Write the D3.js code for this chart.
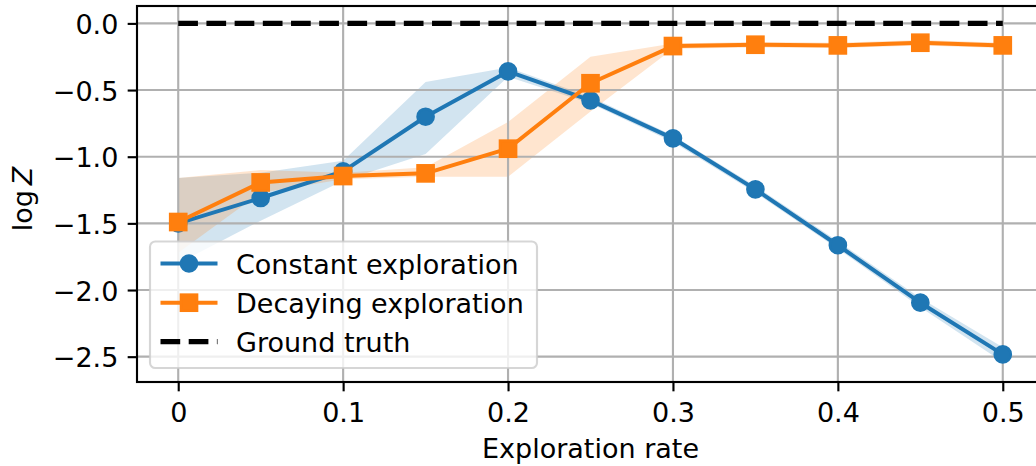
<!DOCTYPE html>
<html>
<head>
<meta charset="utf-8">
<script src="https://cdn.jsdelivr.net/npm/d3@7"></script>
<style>
  html, body { margin: 0; padding: 0; background: #ffffff; }
  svg { display: block; font-family: "DejaVu Sans", sans-serif; }
</style>
</head>
<body>
<svg id="chart" width="1036" height="466"></svg>
<script>
// Exploration rates on the x axis
const rates = [0, 0.05, 0.1, 0.15, 0.2, 0.25, 0.3, 0.35, 0.4, 0.45, 0.5];

// Constant exploration: mean log Z and shaded spread
const constMean = [-1.50, -1.31, -1.11, -0.70, -0.36, -0.577, -0.862, -1.245, -1.664, -2.095, -2.483];
const constLow  = [-1.80, -1.48, -1.18, -0.98, -0.40, -0.60, -0.89, -1.27, -1.69, -2.13, -2.54];
const constHigh = [-1.16, -1.12, -1.03, -0.44, -0.33, -0.55, -0.84, -1.22, -1.635, -2.06, -2.43];

// Decaying exploration: mean log Z and shaded spread
const decayMean = [-1.49, -1.193, -1.145, -1.125, -0.94, -0.449, -0.17, -0.16, -0.165, -0.145, -0.165];
const decayLow  = [-1.72, -1.27, -1.17, -1.15, -1.15, -0.66, -0.19, -0.18, -0.185, -0.165, -0.185];
const decayHigh = [-1.16, -1.10, -1.12, -1.08, -0.74, -0.25, -0.15, -0.14, -0.145, -0.125, -0.145];

// Ground truth log Z
const groundTruth = [0, 0];
const groundTruthRates = [0, 0.5];

// Axis ticks and labels
const xTicks = [0, 0.1, 0.2, 0.3, 0.4, 0.5];
const xTickLabels = ["0", "0.1", "0.2", "0.3", "0.4", "0.5"];
const yTicks = [0, -0.5, -1.0, -1.5, -2.0, -2.5];
const yTickLabels = ["0.0", "\u22120.5", "\u22121.0", "\u22121.5", "\u22122.0", "\u22122.5"];

const seriesNames = ["Constant exploration", "Decaying exploration", "Ground truth"];
const blue = "#1f77b4", orange = "#ff7f0e";

const svg = d3.select("#chart");
const plot = { left: 137, right: 1044, top: 6, bottom: 382 };
const FS = 27;

const x = d3.scaleLinear().domain([-0.025, 0.525]).range([plot.left, plot.right]);
const y = d3.scaleLinear().domain([-2.69, 0.1305]).range([plot.bottom, plot.top]);

svg.append("defs").append("clipPath").attr("id", "plotclip")
  .append("rect").attr("x", plot.left).attr("y", plot.top)
  .attr("width", plot.right - plot.left).attr("height", plot.bottom - plot.top);

const area = (lo, hi) => d3.area()
  .x((d, i) => x(rates[i]))
  .y0((d, i) => y(lo[i]))
  .y1((d, i) => y(hi[i]))(rates);

const body = svg.append("g").attr("clip-path", "url(#plotclip)");

// Shaded spreads sit beneath the grid
body.append("path").attr("d", area(constLow, constHigh)).attr("fill", blue).attr("fill-opacity", 0.2);
body.append("path").attr("d", area(decayLow, decayHigh)).attr("fill", orange).attr("fill-opacity", 0.2);

// Grid
const gridW = 2.13;
body.append("g").selectAll("line").data(xTicks).join("line")
  .attr("x1", d => x(d)).attr("x2", d => x(d))
  .attr("y1", plot.top).attr("y2", plot.bottom)
  .attr("stroke", "#b0b0b0").attr("stroke-width", gridW);
body.append("g").selectAll("line").data(yTicks).join("line")
  .attr("y1", d => y(d)).attr("y2", d => y(d))
  .attr("x1", plot.left).attr("x2", plot.right)
  .attr("stroke", "#b0b0b0").attr("stroke-width", gridW);

const line = vals => d3.line().x((d, i) => x(rates[i])).y((d, i) => y(vals[i]))(rates);

// Constant exploration line with circles
body.append("path").attr("d", line(constMean)).attr("fill", "none")
  .attr("stroke", blue).attr("stroke-width", 4).attr("stroke-linejoin", "round");
body.append("g").selectAll("circle").data(constMean).join("circle")
  .attr("cx", (d, i) => x(rates[i])).attr("cy", d => y(d)).attr("r", 8)
  .attr("fill", blue).attr("stroke", blue).attr("stroke-width", 2.67);

// Decaying exploration line with squares
body.append("path").attr("d", line(decayMean)).attr("fill", "none")
  .attr("stroke", orange).attr("stroke-width", 4).attr("stroke-linejoin", "round");
body.append("g").selectAll("rect").data(decayMean).join("rect")
  .attr("x", (d, i) => x(rates[i]) - 8).attr("y", d => y(d) - 8)
  .attr("width", 16).attr("height", 16)
  .attr("fill", orange).attr("stroke", orange).attr("stroke-width", 2.67);

// Ground truth dashed line
body.append("path")
  .attr("d", d3.line().x((d, i) => x(groundTruthRates[i])).y(d => y(d))(groundTruth))
  .attr("fill", "none").attr("stroke", "#000").attr("stroke-width", 5.33)
  .attr("stroke-dasharray", "19.7,8.5");

// Axes
const xAxis = svg.append("g").attr("transform", `translate(0,${plot.bottom})`)
  .call(d3.axisBottom(x).tickValues(xTicks).tickFormat((d, i) => xTickLabels[i])
    .tickSize(9.33).tickSizeOuter(0));
xAxis.select(".domain").remove();
xAxis.selectAll(".tick line").attr("stroke", "#000").attr("stroke-width", 2.13);
xAxis.selectAll(".tick text").attr("y", 40).attr("dy", null)
  .attr("font-size", FS).attr("font-family", "DejaVu Sans").attr("fill", "#000");

const yAxis = svg.append("g").attr("transform", `translate(${plot.left},0)`)
  .call(d3.axisLeft(y).tickValues(yTicks).tickFormat((d, i) => yTickLabels[i])
    .tickSize(9.33).tickPadding(9.33).tickSizeOuter(0));
yAxis.select(".domain").remove();
yAxis.selectAll(".tick line").attr("stroke", "#000").attr("stroke-width", 2.13);
yAxis.selectAll(".tick text").attr("dy", "0.37em")
  .attr("font-size", FS).attr("font-family", "DejaVu Sans").attr("fill", "#000");

// Spines
const spine = svg.append("g").attr("stroke", "#000").attr("stroke-width", 2.13).attr("fill", "none");
spine.append("rect").attr("x", plot.left).attr("y", plot.top)
  .attr("width", plot.right - plot.left).attr("height", plot.bottom - plot.top);

// Axis labels
svg.append("text").attr("x", (plot.left + plot.right) / 2).attr("y", 458.3)
  .attr("text-anchor", "middle").attr("font-size", FS).attr("fill", "#000")
  .text("Exploration rate");

const yl = svg.append("text").attr("transform", "translate(32.3,199) rotate(-90)")
  .attr("text-anchor", "middle").attr("font-size", FS).attr("fill", "#000");
yl.append("tspan").text("log");
yl.append("tspan").attr("dx", 5).attr("font-style", "italic").text("Z");

// Legend
const lg = svg.append("g");
lg.append("rect").attr("x", 150).attr("y", 241.5).attr("width", 387).attr("height", 126.5)
  .attr("rx", 5.3).attr("fill", "#fff").attr("fill-opacity", 0.8)
  .attr("stroke", "#cccccc").attr("stroke-opacity", 0.8).attr("stroke-width", 2.13);
const rowY = [263.5, 302.7, 341.7];
const hx0 = 160.5, hx1 = 217.5, hxm = (hx0 + hx1) / 2;
seriesNames.forEach((name, i) => {
  const g = lg.append("g");
  const ln = g.append("line").attr("x1", hx0).attr("x2", hx1).attr("y1", rowY[i]).attr("y2", rowY[i]);
  if (i === 0) {
    ln.attr("stroke", blue).attr("stroke-width", 4);
    g.append("circle").attr("cx", hxm).attr("cy", rowY[i]).attr("r", 8)
      .attr("fill", blue).attr("stroke", blue).attr("stroke-width", 2.67);
  } else if (i === 1) {
    ln.attr("stroke", orange).attr("stroke-width", 4);
    g.append("rect").attr("x", hxm - 8).attr("y", rowY[i] - 8).attr("width", 16).attr("height", 16)
      .attr("fill", orange).attr("stroke", orange).attr("stroke-width", 2.67);
  } else {
    ln.attr("stroke", "#000").attr("stroke-width", 5.33).attr("stroke-dasharray", "19.7,8.5");
  }
  g.append("text").attr("x", 236).attr("y", rowY[i] + 10.3)
    .attr("font-size", FS).attr("fill", "#000").text(name);
});
</script>
</body>
</html>
